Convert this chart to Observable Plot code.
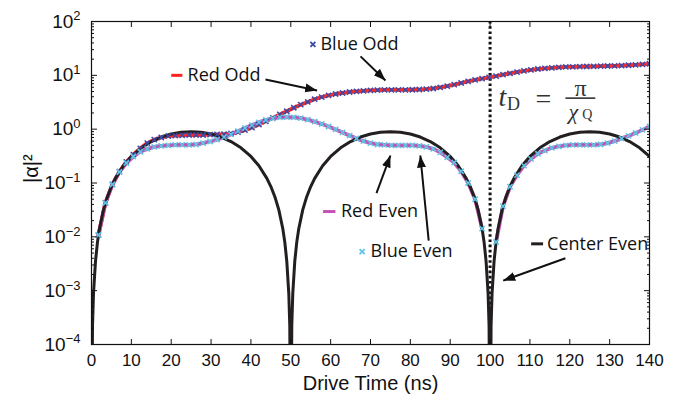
<!DOCTYPE html>
<html><head><meta charset="utf-8">
<script src="https://cdn.jsdelivr.net/npm/d3@7"></script>
<script src="https://cdn.jsdelivr.net/npm/@observablehq/plot@0.6"></script>
<style>body{margin:0;background:#fff}</style>
</head><body><div id="chart"></div>
<script>
// Sampling grid of the simulated curves (ns)
const tGrid = [0,1.75,3.5,5.25,7,8.75,10.5,12.25,14,15.75,17.5,19.25,21,22.75,24.5,26.25,28,29.75,31.5,33.25,
35,36.75,38.5,40.25,42,43.75,45.5,47.25,49,50.75,52.5,54.25,56,57.75,59.5,61.25,63,64.75,66.5,68.25,
70,71.75,73.5,75.25,77,78.75,80.5,82.25,84,85.75,87.5,89.25,91,92.75,94.5,96.25,98,99.75,101.5,103.25,
105,106.75,108.5,110.25,112,113.75,115.5,117.25,119,120.75,122.5,124.25,126,127.75,129.5,131.25,133,134.75,136.5,138.25,140];
// Odd (red line / blue markers); null = zero (off the log axis)
const oddVals = [null,0.0108,0.0428,0.0945,0.163,0.246,0.338,0.44,0.55,0.64,0.70,0.74,0.76,0.77,0.78,0.78,0.78,0.79,0.80,0.81,
0.83,0.88,0.96,1.07,1.22,1.40,1.62,1.88,2.15,2.5,2.85,3.2,3.6,3.95,4.25,4.5,4.7,4.9,5.05,5.15,
5.25,5.3,5.35,5.35,5.35,5.35,5.4,5.45,5.55,5.7,5.95,6.3,6.7,7.2,7.7,8.2,8.7,9.2,9.7,10.3,
10.9,11.5,12.1,12.6,13.1,13.5,13.8,14.1,14.3,14.4,14.5,14.6,14.7,14.8,14.9,15.0,15.2,15.4,15.7,16.0,16.4];
// Even (magenta line / cyan markers)
const evenVals = [null,0.0108,0.0428,0.094,0.16,0.235,0.31,0.38,0.43,0.47,0.49,0.50,0.51,0.51,0.51,0.52,0.55,0.59,0.64,0.71,
0.80,0.92,1.05,1.19,1.34,1.48,1.59,1.66,1.68,1.66,1.60,1.50,1.38,1.25,1.12,0.99,0.87,0.76,0.67,0.60,
0.55,0.52,0.51,0.50,0.50,0.50,0.50,0.49,0.47,0.43,0.37,0.30,0.24,0.165,0.10,0.05,0.0142,null,0.008,0.037,
0.085,0.14,0.21,0.28,0.35,0.40,0.45,0.48,0.50,0.51,0.51,0.51,0.51,0.52,0.55,0.60,0.67,0.75,0.85,0.97,1.12];
// Center even (black)
const centerT = [0,0.25,0.5,1,1.5,2,3,4,5,6,8,10,12.5,15,17.5,20,22.5,25,27.5,30,32.5,35,37.5,40,42,44,45,46,47,48,48.5,49,49.5,49.75,
50,50.25,50.5,51,51.5,52,53,54,55,56,58,60,62.5,65,67.5,70,72.5,75,77.5,80,82.5,85,87.5,90,92,94,95,96,97,98,98.5,99,99.5,99.75,
100,100.25,100.5,101,101.5,102,103,104,105,106,108,110,112.5,115,117.5,120,122.5,125,127.5,130,132.5,135,137.5,140];
const centerVals = [1e-7,2.2e-4,8.9e-4,3.5e-3,7.97e-3,0.0141,0.0316,0.0557,0.0859,0.122,0.209,0.311,0.45,0.589,0.715,0.814,0.878,0.9,0.878,0.814,0.715,0.589,0.45,0.311,0.209,0.122,0.0859,0.0557,0.0316,0.0141,7.97e-3,3.5e-3,8.9e-4,2.2e-4,
1e-7,2.2e-4,8.9e-4,3.5e-3,7.97e-3,0.0141,0.0316,0.0557,0.0859,0.122,0.209,0.311,0.45,0.589,0.715,0.814,0.878,0.9,0.878,0.814,0.715,0.589,0.45,0.311,0.209,0.122,0.0859,0.0557,0.0316,0.0141,7.97e-3,3.5e-3,8.9e-4,2.2e-4,
1e-7,2.2e-4,8.9e-4,3.5e-3,7.97e-3,0.0141,0.0316,0.0557,0.0859,0.122,0.209,0.311,0.45,0.589,0.715,0.814,0.878,0.9,0.878,0.814,0.715,0.589,0.45,0.311];

const xTicks = [0,10,20,30,40,50,60,70,80,90,100,110,120,130,140];
const yTicks = [1e-4,1e-3,1e-2,1e-1,1,10,100];
const yMinor = yTicks.slice(0,-1).flatMap(d => [2,3,4,5,6,7,8,9].map(k => k*d));

// Annotations (data coordinates)
const legendLabels = [
  {t:24.1, v:10, text:"Red Odd"},
  {t:57.45, v:37.5, text:"Blue Odd"},
  {t:62.6, v:0.0295, text:"Red Even"},
  {t:70.0, v:0.00533, text:"Blue Even"},
  {t:114.3, v:0.00741, text:"Center Even"}
];
const arrows = [
  {t1:43.65, v1:8.39, t2:56.6, v2:5.24},
  {t1:67.5, v1:22.5, t2:73.76, v2:8.04},
  {t1:71.5, v1:0.0646, t2:75.0, v2:0.324},
  {t1:84.6, v1:0.00853, t2:82.5, v2:0.324},
  {t1:118.9, v1:0.0040, t2:103.3, v2:0.00154}
];

const RED = "#f52a2a", BLUE = "#3b4aa8", MAG = "#c452b4", CYAN = "#5ec6e4", BLACK = "#231f20";
const oddRows = tGrid.map((t,i) => ({t, v: oddVals[i]}));
const evenRows = tGrid.map((t,i) => ({t, v: evenVals[i]}));
const centerRows = centerT.map((t,i) => ({t, v: centerVals[i]}));

const sans = "'Liberation Sans', Arial, sans-serif";
const ann = "'Open Sans', sans-serif";
const serif = "'Liberation Serif', 'DejaVu Serif', serif";

const chart = Plot.plot({
  width: 692, height: 395,
  marginLeft: 91, marginRight: 43, marginTop: 21, marginBottom: 51,
  style: {fontFamily: sans, background: "white", color: "#111"},
  x: {domain: [0, 140]},
  y: {type: "log", domain: [1e-4, 1e2]},
  marks: [
    Plot.ruleX([100], {stroke: "#111", strokeWidth: 3, strokeDasharray: "2.6,2.6"}),
    Plot.line(oddRows, {x: "t", y: "v", stroke: RED, strokeWidth: 3.8, clip: true}),
    Plot.line(evenRows, {x: "t", y: "v", stroke: MAG, strokeWidth: 3.8, clip: true}),
    Plot.line(centerRows, {x: "t", y: "v", stroke: BLACK, strokeWidth: 3, clip: true}),
    Plot.dot(oddRows, {x: "t", y: "v", symbol: "times", r: 2.5, stroke: BLUE, strokeWidth: 1.5, clip: true}),
    Plot.dot(evenRows, {x: "t", y: "v", symbol: "times", r: 2.5, stroke: CYAN, strokeWidth: 1.6, clip: true}),
    // legend swatches
    Plot.link([legendLabels[0]], {x1: d => d.t - 4.1, x2: d => d.t - 1.3, y1: "v", y2: "v", stroke: "#ff2020", strokeWidth: 3}),
    Plot.dot([legendLabels[1]], {x: d => d.t - 1.9, y: "v", symbol: "times", r: 2.4, stroke: BLUE, strokeWidth: 1.8}),
    Plot.link([legendLabels[2]], {x1: d => d.t - 4.5, x2: d => d.t - 1.4, y1: "v", y2: "v", stroke: MAG, strokeWidth: 3}),
    Plot.dot([legendLabels[3]], {x: d => d.t - 2.1, y: "v", symbol: "times", r: 2.4, stroke: CYAN, strokeWidth: 1.8}),
    Plot.link([legendLabels[4]], {x1: d => d.t - 4.0, x2: d => d.t - 1.0, y1: "v", y2: "v", stroke: BLACK, strokeWidth: 3}),
    Plot.text(legendLabels, {x: "t", y: "v", text: "text", textAnchor: "start", lineAnchor: "middle", fontSize: 18, fontFamily: ann, fill: "#111", clip: true}),
    Plot.link(arrows, {x1: "t1", y1: "v1", x2: "t2", y2: "v2", stroke: "#111", strokeWidth: 2, markerEnd: "arrow"}),
    // t_D = pi / chi_Q
    Plot.text(["t"], {x: 102.1, y: 3.88, text: d => d, fontFamily: serif, fontStyle: "italic", fontSize: 28, textAnchor: "start", lineAnchor: "middle", fill: "#333"}),
    Plot.text(["D"], {x: 105.9, y: 2.95, text: d => d, fontFamily: serif, fontSize: 18, lineAnchor: "middle", fill: "#333"}),
    Plot.text(["="], {x: 113.4, y: 3.7, text: d => d, fontFamily: serif, fontSize: 28, lineAnchor: "middle", fill: "#333"}),
    Plot.link([0], {x1: 118.9, x2: 126.4, y1: 3.77, y2: 3.77, stroke: "#333", strokeWidth: 1.6}),
    Plot.text(["π"], {x: 122.7, y: 5.7, text: d => d, fontFamily: serif, fontSize: 24, lineAnchor: "middle", fill: "#333"}),
    Plot.text(["χ"], {x: 120.9, y: 2.13, text: d => d, fontFamily: serif, fontStyle: "italic", fontSize: 22, lineAnchor: "middle", fill: "#333"}),
    Plot.text(["Q"], {x: 124.4, y: 1.85, text: d => d, fontFamily: serif, fontSize: 14, lineAnchor: "middle", fill: "#333"}),
    // axes: inward ticks
    Plot.axisX(xTicks, {anchor: "bottom", tickSize: -5, tickFormat: () => "", label: null}),
    Plot.axisX(xTicks, {anchor: "top", tickSize: -5, tickFormat: () => "", label: null}),
    Plot.axisX(xTicks, {anchor: "bottom", tickSize: 0, tickPadding: 9, fontSize: 17, label: null}),
    Plot.axisY(yTicks, {anchor: "left", tickSize: -6, tickFormat: () => "", label: null}),
    Plot.axisY(yTicks, {anchor: "right", tickSize: -6, tickFormat: () => "", label: null}),
    Plot.axisY(yMinor, {anchor: "left", tickSize: -3, tickFormat: () => "", label: null}),
    Plot.axisY(yMinor, {anchor: "right", tickSize: -3, tickFormat: () => "", label: null}),
    Plot.axisY(yTicks, {anchor: "left", tickSize: 0, tickPadding: 11, fontSize: 19, label: null,
      tickFormat: d => String(Math.round(Math.log10(d))).replace("-", "\u2212")}),
    Plot.text(["Drive Time (ns)"], {frameAnchor: "bottom", lineAnchor: "middle", dy: 39, text: d => d, fontSize: 20, fill: "#111"}),
    Plot.text(["|\u03b1|\u00b2"], {frameAnchor: "left", dx: -60, rotate: -90, text: d => d, fontSize: 20, fill: "#111"}),
    Plot.frame({stroke: "#111", strokeWidth: 1.2})
  ]
});

const ns = "http://www.w3.org/2000/svg";
chart.querySelectorAll('g[aria-label="y-axis tick label"] text').forEach(t => {
  const e = t.textContent;
  if (!e) return;
  t.textContent = "";
  const a = document.createElementNS(ns, "tspan"); a.textContent = "10"; t.appendChild(a);
  const b = document.createElementNS(ns, "tspan"); b.textContent = e;
  b.setAttribute("dy", "-0.55em"); b.setAttribute("font-size", "13"); t.appendChild(b);
});
chart.querySelectorAll("marker").forEach(m => {
  m.setAttribute("viewBox", "-12 -6 12 12");
  m.setAttribute("markerWidth", "12"); m.setAttribute("markerHeight", "12");
  m.setAttribute("markerUnits", "userSpaceOnUse");
  m.setAttribute("refX", "0"); m.setAttribute("refY", "0");
  m.setAttribute("orient", "auto");
  m.setAttribute("fill", "#111"); m.setAttribute("stroke", "none");
  m.innerHTML = '<path d="M-12,-4.5L0,0L-12,4.5Z"/>';
});
document.getElementById("chart").appendChild(chart);
</script>
</body></html>
